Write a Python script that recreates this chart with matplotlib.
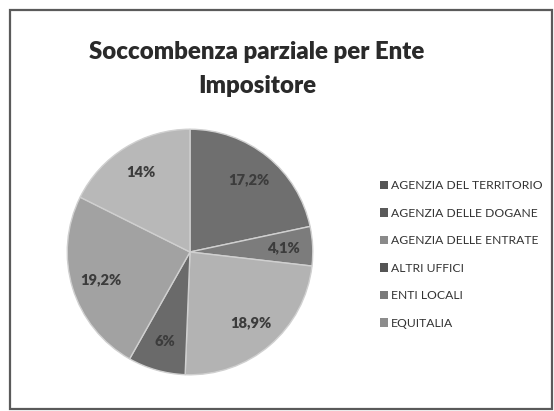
import matplotlib
matplotlib.use('Agg')
import matplotlib.pyplot as plt
from matplotlib.patches import Rectangle

# Data
title_line1 = "Soccombenza parziale per Ente"
title_line2 = "Impositore"
categories = ["AGENZIA DEL TERRITORIO", "AGENZIA DELLE DOGANE",
              "AGENZIA DELLE ENTRATE", "ALTRI UFFICI",
              "ENTI LOCALI", "EQUITALIA"]
values = [17.2, 4.1, 18.9, 6, 19.2, 14]
slice_colors = ["#6f6f6f", "#7c7c7c", "#b3b3b3", "#6a6a6a", "#a2a2a2", "#b8b8b8"]
legend_colors = ["#555555", "#5a5a5a", "#8a8a8a", "#555555", "#7a7a7a", "#8c8c8c"]

W, H = 554, 411
fig = plt.figure(figsize=(W / 100, H / 100), dpi=100)
fig.patch.set_facecolor('white')

# chart frame
fig.add_artist(Rectangle((10 / W, 2 / H), 542 / W, 399 / H, transform=fig.transFigure,
                         fill=False, edgecolor='#5a5a5a', linewidth=1.6))

# title
for txt, ypx in [(title_line1, 52), (title_line2, 86)]:
    fig.text(257 / W, 1 - ypx / H, txt, ha='center', va='center',
             fontsize=17.3, fontweight='heavy', family='Lato', color='#2a2a2a')

# pie
cx, cy, r = 190, 252, 124
ax = fig.add_axes([(cx - r) / W, (H - cy - r) / H, 2 * r / W, 2 * r / H])
labels = [f"{v:g}".replace('.', ',') + '%' for v in values]
wedges, texts = ax.pie(values, colors=slice_colors, startangle=90, counterclock=False,
                       labels=labels, labeldistance=0.76,
                       wedgeprops=dict(edgecolor='#d0d0d0', linewidth=1.0),
                       textprops=dict(fontsize=10.5, fontweight='heavy', color='#3c3c3c',
                                      family='Lato', ha='center', va='center'))
ax.set_xlim(-1.01, 1.01)
ax.set_ylim(-1.01, 1.01)
ax.set_aspect('equal')

# legend
handles = [Rectangle((0, 0), 1, 1, facecolor=c, edgecolor='none') for c in legend_colors]
fig.legend(handles, categories, loc='upper left',
           bbox_to_anchor=(380 / W, 1 - 180 / H), frameon=False,
           prop=dict(family='Lato', size=8.7), labelcolor='#333333',
           handlelength=0.7, handleheight=0.7, handletextpad=0.2,
           labelspacing=1.37, borderpad=0, borderaxespad=0)

plt.savefig('out.png', dpi=100)
plt.close()
